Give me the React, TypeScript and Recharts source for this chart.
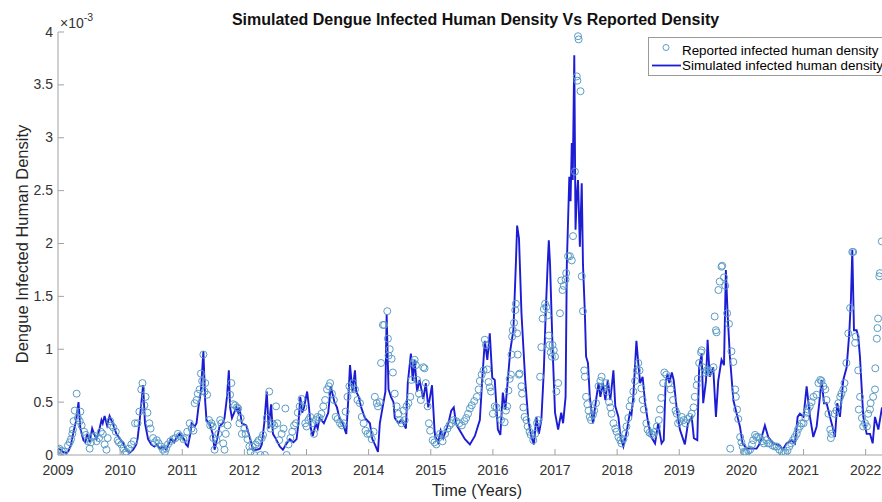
import React from 'react';
import { ComposedChart, Line, Scatter, XAxis, YAxis, Legend } from 'recharts';

type Pair = [number, number];

// x: year, y: density in units of 1e-3
const yearTicks = [2009, 2010, 2011, 2012, 2013, 2014, 2015, 2016, 2017, 2018, 2019, 2020, 2021, 2022];
const densityTicks = [0, 0.5, 1, 1.5, 2, 2.5, 3, 3.5, 4];
const xDomain: [number, number] = [2009, 2022.263];
const yDomain: [number, number] = [0, 4];

// Reported infected human density: [fraction of year, value x1e-3]
const reported2009: Pair[] = [[0.00,0.05],[0.02,0.06],[0.06,0.04],[0.10,0.03],[0.16,0.09],[0.19,0.12],[0.21,0.15],[0.23,0.20],[0.24,0.24],[0.25,0.32],[0.27,0.42],[0.30,0.58],[0.32,0.35],[0.35,0.32],[0.36,0.41],[0.38,0.28],[0.42,0.22],[0.45,0.19],[0.48,0.13],[0.51,0.06],[0.53,0.12],[0.56,0.17],[0.59,0.18],[0.62,0.13],[0.66,0.16],[0.69,0.22],[0.72,0.20],[0.75,0.10],[0.78,0.05],[0.80,0.16],[0.84,0.32],[0.86,0.28],[0.89,0.26],[0.93,0.22],[0.96,0.14],[0.98,0.12]];
const reported2010: Pair[] = [[0.02,0.10],[0.05,0.06],[0.08,0.02],[0.10,0.03],[0.14,0.06],[0.18,0.10],[0.22,0.13],[0.24,0.30],[0.28,0.30],[0.31,0.41],[0.34,0.62],[0.36,0.68],[0.39,0.47],[0.41,0.55],[0.44,0.40],[0.47,0.30],[0.49,0.25],[0.53,0.16],[0.56,0.12],[0.59,0.14],[0.62,0.11],[0.66,0.08],[0.69,0.05],[0.72,0.03],[0.74,0.06],[0.77,0.10],[0.81,0.13],[0.85,0.15],[0.89,0.16],[0.93,0.20],[0.96,0.18]];
const reported2011: Pair[] = [[0.02,0.15],[0.05,0.16],[0.08,0.22],[0.12,0.30],[0.15,0.25],[0.18,0.23],[0.20,0.49],[0.23,0.52],[0.25,0.58],[0.28,0.62],[0.30,0.77],[0.32,0.70],[0.34,0.95],[0.36,0.60],[0.37,0.68],[0.40,0.57],[0.43,0.33],[0.45,0.28],[0.47,0.30],[0.49,0.27],[0.50,0.16],[0.52,0.05],[0.55,0.14],[0.58,0.20],[0.61,0.33],[0.63,0.30],[0.66,0.11],[0.68,0.05],[0.70,0.20],[0.73,0.28],[0.77,0.57],[0.79,0.68],[0.82,0.48],[0.85,0.47],[0.88,0.45],[0.90,0.44],[0.92,0.30],[0.94,0.35],[0.96,0.20]];
const reported2012: Pair[] = [[0.00,0.25],[0.02,0.20],[0.05,0.15],[0.08,0.08],[0.10,0.03],[0.13,0.08],[0.16,0.00],[0.18,0.10],[0.21,0.12],[0.23,0.14],[0.26,0.00],[0.28,0.16],[0.30,0.19],[0.33,0.00],[0.36,0.35],[0.40,0.60],[0.42,0.25],[0.45,0.30],[0.48,0.28],[0.51,0.46],[0.53,0.30],[0.56,0.14],[0.60,0.20],[0.63,0.25],[0.66,0.44],[0.68,0.00],[0.71,0.10],[0.74,0.16],[0.77,0.22],[0.80,0.28],[0.83,0.30],[0.86,0.40],[0.89,0.46],[0.92,0.53],[0.95,0.45],[0.98,0.30]];
const reported2013: Pair[] = [[0.00,0.27],[0.03,0.33],[0.06,0.36],[0.09,0.30],[0.12,0.20],[0.15,0.33],[0.18,0.36],[0.21,0.35],[0.24,0.39],[0.27,0.46],[0.30,0.52],[0.33,0.62],[0.36,0.65],[0.38,0.68],[0.41,0.58],[0.44,0.52],[0.47,0.36],[0.50,0.34],[0.54,0.30],[0.57,0.28],[0.60,0.30],[0.63,0.41],[0.66,0.55],[0.69,0.65],[0.72,0.62],[0.75,0.68],[0.78,0.62],[0.82,0.52],[0.86,0.49],[0.89,0.36],[0.92,0.30],[0.95,0.23],[0.98,0.20]];
const reported2014: Pair[] = [[0.02,0.20],[0.05,0.15],[0.08,0.22],[0.10,0.55],[0.13,0.49],[0.15,0.46],[0.18,0.50],[0.20,0.87],[0.23,1.23],[0.25,1.23],[0.30,1.36],[0.31,1.10],[0.32,0.94],[0.34,1.00],[0.37,0.91],[0.39,0.78],[0.42,0.58],[0.45,0.46],[0.48,0.39],[0.50,0.33],[0.53,0.30],[0.56,0.42],[0.58,0.33],[0.61,0.46],[0.64,0.49],[0.67,0.55],[0.69,0.71],[0.72,0.87],[0.74,0.90],[0.76,0.85],[0.78,0.71],[0.81,0.58],[0.84,0.52],[0.88,0.83],[0.90,0.82],[0.92,0.68],[0.95,0.46],[0.97,0.30],[0.99,0.23]];
const reported2015: Pair[] = [[0.03,0.14],[0.06,0.12],[0.09,0.10],[0.12,0.16],[0.15,0.20],[0.19,0.13],[0.23,0.20],[0.27,0.25],[0.30,0.28],[0.33,0.30],[0.37,0.33],[0.41,0.32],[0.46,0.30],[0.50,0.28],[0.54,0.32],[0.57,0.35],[0.60,0.39],[0.63,0.44],[0.66,0.47],[0.70,0.51],[0.74,0.55],[0.77,0.62],[0.79,0.70],[0.82,0.76],[0.85,0.80],[0.87,1.09],[0.89,1.04],[0.91,0.81],[0.93,0.69],[0.95,0.64],[0.97,0.60]];
const reported2016: Pair[] = [[0.00,0.39],[0.03,0.46],[0.06,0.45],[0.09,0.39],[0.13,0.33],[0.19,0.31],[0.21,0.42],[0.23,0.46],[0.25,0.61],[0.27,0.72],[0.29,0.76],[0.30,0.95],[0.31,1.12],[0.32,1.18],[0.34,1.25],[0.36,1.37],[0.37,1.43],[0.39,1.15],[0.40,0.95],[0.42,0.76],[0.43,0.77],[0.46,0.65],[0.47,0.58],[0.49,0.45],[0.51,0.36],[0.54,0.33],[0.56,0.27],[0.59,0.22],[0.61,0.19],[0.65,0.14],[0.68,0.20],[0.71,0.30],[0.73,0.33],[0.76,0.74],[0.78,1.02],[0.80,1.29],[0.82,1.38],[0.84,1.43],[0.86,1.40],[0.88,1.32],[0.90,1.13],[0.91,1.04],[0.93,0.97],[0.95,0.93],[0.96,1.04],[0.98,0.99]];
const reported2017: Pair[] = [[0.00,0.93],[0.02,0.60],[0.05,0.68],[0.08,1.34],[0.10,1.65],[0.12,1.56],[0.14,1.60],[0.17,1.66],[0.18,1.72],[0.21,1.88],[0.24,1.88],[0.27,1.84],[0.29,2.07],[0.32,2.68],[0.35,3.58],[0.36,3.54],[0.37,3.96],[0.38,3.93],[0.41,3.44],[0.43,1.69],[0.45,1.36],[0.47,0.80],[0.48,0.74],[0.50,0.55],[0.52,0.48],[0.54,0.42],[0.56,0.36],[0.58,0.33],[0.61,0.38],[0.63,0.42],[0.66,0.49],[0.70,0.65],[0.73,0.70],[0.75,0.74],[0.78,0.63],[0.81,0.68],[0.84,0.60],[0.87,0.50],[0.89,0.45],[0.91,0.39],[0.94,0.30],[0.97,0.25],[0.99,0.22]];
const reported2018: Pair[] = [[0.02,0.17],[0.05,0.14],[0.07,0.11],[0.10,0.15],[0.13,0.20],[0.15,0.27],[0.18,0.35],[0.20,0.46],[0.23,0.52],[0.26,0.60],[0.29,0.70],[0.32,0.80],[0.34,0.87],[0.36,0.80],[0.39,0.63],[0.41,0.52],[0.43,0.43],[0.47,0.30],[0.49,0.24],[0.52,0.21],[0.55,0.20],[0.58,0.19],[0.61,0.22],[0.64,0.27],[0.67,0.33],[0.69,0.43],[0.71,0.54],[0.74,0.68],[0.76,0.78],[0.79,0.76],[0.83,0.68],[0.86,0.62],[0.90,0.52],[0.94,0.42],[0.96,0.39],[0.98,0.30]];
const reported2019: Pair[] = [[0.01,0.32],[0.04,0.36],[0.07,0.33],[0.10,0.30],[0.13,0.34],[0.17,0.36],[0.20,0.39],[0.23,0.45],[0.25,0.55],[0.28,0.66],[0.30,0.72],[0.32,0.87],[0.35,0.97],[0.36,0.99],[0.38,0.83],[0.41,0.78],[0.44,0.80],[0.47,0.78],[0.50,0.80],[0.55,0.83],[0.57,1.31],[0.59,1.18],[0.60,1.16],[0.63,1.56],[0.65,1.64],[0.68,1.78],[0.69,1.79],[0.72,1.68],[0.74,1.60],[0.77,1.34],[0.80,1.24],[0.82,0.06],[0.84,0.98],[0.87,0.88],[0.90,0.62],[0.91,0.55],[0.93,0.43],[0.95,0.34],[0.98,0.17]];
const reported2020: Pair[] = [[0.00,0.12],[0.02,0.08],[0.04,0.03],[0.06,0.02],[0.08,0.02],[0.11,0.04],[0.14,0.05],[0.17,0.10],[0.19,0.14],[0.22,0.19],[0.24,0.17],[0.27,0.17],[0.30,0.16],[0.33,0.13],[0.36,0.11],[0.40,0.14],[0.43,0.11],[0.46,0.11],[0.50,0.09],[0.54,0.08],[0.57,0.08],[0.61,0.05],[0.65,0.03],[0.68,0.02],[0.71,0.02],[0.74,0.04],[0.77,0.08],[0.80,0.11],[0.83,0.14],[0.86,0.17],[0.89,0.20],[0.91,0.24],[0.94,0.27],[0.97,0.30]];
const reported2021: Pair[] = [[0.00,0.30],[0.03,0.35],[0.05,0.40],[0.07,0.43],[0.10,0.46],[0.13,0.50],[0.16,0.55],[0.21,0.57],[0.24,0.68],[0.27,0.71],[0.29,0.70],[0.32,0.65],[0.35,0.62],[0.37,0.52],[0.40,0.39],[0.43,0.24],[0.44,0.16],[0.45,0.20],[0.50,0.39],[0.53,0.42],[0.56,0.49],[0.59,0.55],[0.61,0.58],[0.64,0.62],[0.66,0.68],[0.69,0.87],[0.72,1.15],[0.75,1.39],[0.785,1.92],[0.80,1.92],[0.83,1.06],[0.84,1.12],[0.88,0.80],[0.89,0.43],[0.91,0.55],[0.94,0.35],[0.96,0.27],[0.99,0.30]];
const reported2022: Pair[] = [[0.02,0.27],[0.04,0.39],[0.07,0.43],[0.08,0.49],[0.12,0.55],[0.15,0.62],[0.155,0.82],[0.18,1.10],[0.19,1.20],[0.20,1.29],[0.22,1.69],[0.23,1.72],[0.26,2.02]];

// Simulated infected human density: [fraction of year, value x1e-3]
const simulated2009: Pair[] = [[0.00,0.06],[0.04,0.05],[0.08,0.03],[0.14,0.02],[0.17,0.04],[0.21,0.10],[0.25,0.22],[0.29,0.32],[0.33,0.50],[0.36,0.25],[0.41,0.14],[0.44,0.12],[0.47,0.20],[0.51,0.12],[0.55,0.25],[0.58,0.20],[0.62,0.15],[0.67,0.25],[0.70,0.33],[0.72,0.30],[0.75,0.37],[0.79,0.28],[0.83,0.37],[0.88,0.30],[0.94,0.20]];
const simulated2010: Pair[] = [[0.00,0.15],[0.04,0.12],[0.10,0.05],[0.15,0.02],[0.21,0.05],[0.26,0.10],[0.28,0.15],[0.31,0.30],[0.37,0.66],[0.40,0.30],[0.45,0.15],[0.50,0.10],[0.55,0.08],[0.59,0.10],[0.64,0.06],[0.69,0.08],[0.74,0.05],[0.78,0.10],[0.82,0.15],[0.87,0.12],[0.91,0.17],[0.96,0.20]];
const simulated2011: Pair[] = [[0.03,0.15],[0.06,0.10],[0.09,0.08],[0.13,0.20],[0.15,0.30],[0.20,0.27],[0.23,0.30],[0.26,0.45],[0.30,0.60],[0.34,0.98],[0.37,0.50],[0.39,0.33],[0.44,0.30],[0.49,0.20],[0.52,0.05],[0.56,0.15],[0.60,0.27],[0.65,0.30],[0.68,0.35],[0.72,0.55],[0.75,0.80],[0.77,0.45],[0.80,0.35],[0.87,0.45],[0.90,0.40],[0.92,0.45],[0.96,0.30]];
const simulated2012: Pair[] = [[0.03,0.28],[0.07,0.20],[0.14,0.05],[0.20,0.05],[0.25,0.06],[0.28,0.10],[0.32,0.30],[0.36,0.60],[0.39,0.25],[0.43,0.48],[0.46,0.20],[0.51,0.15],[0.57,0.08],[0.62,0.05],[0.67,0.10],[0.73,0.15],[0.79,0.12],[0.84,0.15],[0.87,0.30],[0.90,0.55],[0.93,0.40],[0.96,0.45]];
const simulated2013: Pair[] = [[0.01,0.60],[0.04,0.45],[0.07,0.25],[0.10,0.18],[0.15,0.30],[0.18,0.25],[0.21,0.35],[0.28,0.30],[0.35,0.40],[0.39,0.65],[0.45,0.50],[0.49,0.45],[0.53,0.35],[0.58,0.30],[0.64,0.20],[0.67,0.50],[0.70,0.85],[0.74,0.60],[0.78,0.80],[0.80,0.60],[0.84,0.55],[0.88,0.45],[0.94,0.35]];
const simulated2014: Pair[] = [[0.02,0.30],[0.06,0.15],[0.10,0.10],[0.15,0.03],[0.18,0.30],[0.21,0.40],[0.24,0.50],[0.27,0.60],[0.29,1.33],[0.32,0.62],[0.36,0.55],[0.40,0.50],[0.42,0.35],[0.48,0.30],[0.52,0.33],[0.56,0.30],[0.60,0.25],[0.63,0.68],[0.68,0.96],[0.71,0.70],[0.74,0.90],[0.78,0.60],[0.82,0.71],[0.88,0.53],[0.92,0.68],[0.96,0.45]];
const simulated2015: Pair[] = [[0.02,0.66],[0.06,0.24],[0.07,0.18],[0.12,0.12],[0.16,0.23],[0.20,0.16],[0.28,0.29],[0.33,0.42],[0.37,0.45],[0.41,0.29],[0.47,0.23],[0.55,0.15],[0.63,0.10],[0.71,0.18],[0.79,0.33],[0.83,0.73],[0.87,1.08],[0.91,0.90],[0.95,1.15],[0.99,0.73]];
const simulated2016: Pair[] = [[0.03,0.71],[0.08,0.24],[0.12,0.19],[0.16,0.59],[0.20,0.43],[0.24,0.71],[0.28,0.99],[0.33,1.18],[0.37,1.81],[0.39,2.17],[0.42,2.05],[0.46,1.34],[0.52,0.71],[0.57,0.33],[0.62,0.17],[0.66,0.10],[0.70,0.36],[0.74,0.20],[0.78,0.33],[0.82,0.80],[0.85,1.34],[0.88,1.78],[0.90,2.03],[0.92,1.80],[0.96,1.02]];
const simulated2017: Pair[] = [[0.00,0.40],[0.05,0.24],[0.10,0.40],[0.13,0.30],[0.17,0.55],[0.19,1.80],[0.23,2.63],[0.25,2.40],[0.27,2.95],[0.285,2.60],[0.31,3.78],[0.33,2.13],[0.35,2.45],[0.37,2.60],[0.40,1.97],[0.43,2.57],[0.45,1.80],[0.48,1.35],[0.50,0.93],[0.53,0.87],[0.56,0.55],[0.61,0.30],[0.66,0.52],[0.70,0.68],[0.73,0.55],[0.77,0.68],[0.81,0.52],[0.85,0.71],[0.89,0.52],[0.94,0.80],[0.97,0.46]];
const simulated2018: Pair[] = [[0.02,0.36],[0.055,0.17],[0.10,0.08],[0.15,0.21],[0.205,0.40],[0.23,0.38],[0.26,0.55],[0.31,1.08],[0.34,0.87],[0.37,0.68],[0.41,0.74],[0.45,0.49],[0.50,0.30],[0.55,0.17],[0.61,0.11],[0.66,0.30],[0.715,0.11],[0.75,0.14],[0.78,0.68],[0.81,0.77],[0.84,0.68],[0.88,0.78],[0.91,0.71],[0.96,0.43]];
const simulated2019: Pair[] = [[0.01,0.24],[0.09,0.10],[0.14,0.30],[0.20,0.36],[0.235,0.16],[0.29,0.14],[0.32,0.83],[0.36,0.96],[0.385,0.49],[0.43,0.70],[0.456,1.09],[0.49,0.74],[0.546,0.83],[0.59,0.36],[0.627,0.70],[0.68,0.90],[0.72,0.85],[0.75,1.75],[0.78,1.31],[0.815,0.93],[0.87,0.52],[0.92,0.40],[0.976,0.27]];
const simulated2020: Pair[] = [[0.019,0.11],[0.083,0.06],[0.244,0.06],[0.298,0.11],[0.378,0.28],[0.432,0.17],[0.512,0.11],[0.62,0.09],[0.663,0.05],[0.727,0.11],[0.808,0.14],[0.862,0.11],[0.905,0.36],[0.942,0.39]];
const simulated2021: Pair[] = [[0.00,0.36],[0.05,0.65],[0.104,0.36],[0.157,0.17],[0.211,0.27],[0.253,0.49],[0.291,0.71],[0.329,0.49],[0.372,0.49],[0.426,0.36],[0.479,0.24],[0.506,0.17],[0.543,0.49],[0.586,0.36],[0.64,0.71],[0.694,0.83],[0.736,1.15],[0.763,1.47],[0.785,1.94],[0.812,1.18],[0.855,1.18],[0.881,1.12],[0.908,0.93],[0.962,0.36]];
const simulated2022: Pair[] = [[0.016,0.20],[0.07,0.20],[0.113,0.11],[0.15,0.36],[0.204,0.24],[0.263,0.45]];

const reportedByYear: [number, Pair[]][] = [
  [2009, reported2009], [2010, reported2010], [2011, reported2011], [2012, reported2012],
  [2013, reported2013], [2014, reported2014], [2015, reported2015], [2016, reported2016],
  [2017, reported2017], [2018, reported2018], [2019, reported2019], [2020, reported2020],
  [2021, reported2021], [2022, reported2022],
];
const simulatedByYear: [number, Pair[]][] = [
  [2009, simulated2009], [2010, simulated2010], [2011, simulated2011], [2012, simulated2012],
  [2013, simulated2013], [2014, simulated2014], [2015, simulated2015], [2016, simulated2016],
  [2017, simulated2017], [2018, simulated2018], [2019, simulated2019], [2020, simulated2020],
  [2021, simulated2021], [2022, simulated2022],
];

const toRows = (years: [number, Pair[]][]) =>
  years.flatMap(([year, pairs]) => pairs.map(([f, v]) => ({ t: year + f, v })));

const reportedRows = toRows(reportedByYear);
const simulatedRows = toRows(simulatedByYear);

const FONT = "'Liberation Sans', Arial, Helvetica, sans-serif";
const AXIS = '#a3a3a3';
const TICK_TEXT = '#333333';
const LINE_COLOR = '#1c1cd4';
const MARKER_COLOR = '#5a9cc6';

const renderXTick = (props: any) => {
  const { x, y, payload } = props;
  return (
    <g>
      <line x1={x} x2={x} y1={y} y2={y - 6} stroke={AXIS} strokeWidth={1} />
      <text x={x} y={y + 19.5} textAnchor="middle" fontSize={14} fill={TICK_TEXT} fontFamily={FONT}>
        {payload.value}
      </text>
    </g>
  );
};

const renderYTick = (props: any) => {
  const { x, y, payload } = props;
  return (
    <g>
      <line x1={x} x2={x + 6} y1={y} y2={y} stroke={AXIS} strokeWidth={1} />
      <text x={x - 5} y={y + 4.5} textAnchor="end" fontSize={14} fill={TICK_TEXT} fontFamily={FONT}>
        {String(payload.value)}
      </text>
    </g>
  );
};

const renderMarker = (props: any) => {
  const { cx, cy } = props;
  if (cx == null || cy == null) return <g />;
  return <circle cx={cx} cy={cy} r={3.5} fill="none" stroke={MARKER_COLOR} strokeWidth={1} />;
};

const renderLegend = () => (
  <div
    style={{
      width: 240,
      height: 39,
      boxSizing: 'border-box',
      border: '1px solid #9a9a9a',
      background: '#ffffff',
      position: 'relative',
      fontFamily: FONT,
      fontSize: 13.4,
      color: '#000',
      lineHeight: '15px',
      whiteSpace: 'nowrap',
    }}
  >
    <svg width={40} height={37} style={{ position: 'absolute', left: 0, top: 0 }}>
      <circle cx={17} cy={9.5} r={3} fill="none" stroke={MARKER_COLOR} strokeWidth={1} />
      <line x1={3} x2={32} y1={27.5} y2={27.5} stroke={LINE_COLOR} strokeWidth={1.8} />
    </svg>
    <div style={{ position: 'absolute', left: 33, top: 5 }}>Reported infected human density</div>
    <div style={{ position: 'absolute', left: 33, top: 20 }}>Simulated infected human density</div>
  </div>
);

export default function App() {
  return (
    <div style={{ position: 'absolute', left: 0, top: 0, width: 882, height: 502, overflow: 'hidden', background: '#fff' }}>
      <ComposedChart width={882} height={502} margin={{ top: 32, right: 0, bottom: 17, left: 0 }}>
        <XAxis
          dataKey="t"
          type="number"
          domain={xDomain}
          ticks={yearTicks}
          allowDataOverflow
          interval={0}
          height={30}
          tickSize={0}
          tickMargin={0}
          tickLine={false}
          axisLine={{ stroke: AXIS, strokeWidth: 1 }}
          tick={renderXTick}
        />
        <YAxis
          type="number"
          domain={yDomain}
          ticks={densityTicks}
          allowDataOverflow
          interval={0}
          width={58}
          tickSize={0}
          tickMargin={0}
          tickLine={false}
          axisLine={{ stroke: AXIS, strokeWidth: 1 }}
          tick={renderYTick}
        />
        <Scatter
          name="Reported infected human density"
          data={reportedRows}
          dataKey="v"
          shape={renderMarker}
          isAnimationActive={false}
        />
        <Line
          name="Simulated infected human density"
          data={simulatedRows}
          dataKey="v"
          type="linear"
          stroke={LINE_COLOR}
          strokeWidth={1.9}
          dot={false}
          activeDot={false}
          isAnimationActive={false}
        />
        <Legend
          layout="vertical"
          align="center"
          verticalAlign="middle"
          content={renderLegend}
          wrapperStyle={{ left: 648, top: 37, width: 240, height: 39 }}
        />
      </ComposedChart>
      <svg width={882} height={502} style={{ position: 'absolute', left: 0, top: 0, pointerEvents: 'none' }}>
        <text x={475.5} y={25} textAnchor="middle" fontSize={16} fontWeight="bold" fill="#111" fontFamily={FONT}>
          Simulated Dengue Infected Human Density Vs Reported Density
        </text>
        <text x={60} y={27.5} fontSize={14} fill={TICK_TEXT} fontFamily={FONT}>
          ×10
          <tspan fontSize={10.5} dy={-7}>-3</tspan>
        </text>
        <text
          transform="translate(27.5,244) rotate(-90)"
          textAnchor="middle"
          fontSize={16.5}
          fill="#262626"
          fontFamily={FONT}
        >
          Dengue Infected Human Density
        </text>
        <text x={477} y={496} textAnchor="middle" fontSize={16} fill="#262626" fontFamily={FONT}>
          Time (Years)
        </text>
      </svg>
    </div>
  );
}
